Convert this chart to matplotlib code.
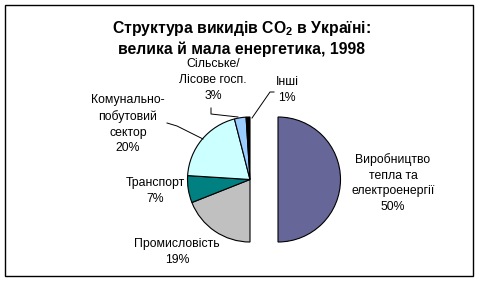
import matplotlib
matplotlib.use("Agg")
import matplotlib.pyplot as plt
from matplotlib.patches import Rectangle

plt.rcParams['font.family'] = ['Liberation Sans', 'DejaVu Sans']
plt.rcParams['mathtext.fontset'] = 'custom'
plt.rcParams['mathtext.rm'] = 'Liberation Sans:bold'
plt.rcParams['mathtext.bf'] = 'Liberation Sans:bold'
plt.rcParams['mathtext.default'] = 'regular'

title = 'Структура викидів CO$_2$ в Україні:\nвелика й мала енергетика, 1998'
categories = ['Виробництво\nтепла та\nелектроенергії', 'Промисловість', 'Транспорт',
              'Комунально-\nпобутовий\nсектор', 'Сільське/\nЛісове госп.', 'Інші']
values = [50, 19, 7, 20, 3, 1]
colors = ['#666699', '#C0C0C0', '#008080', '#CCFFFF', '#99CCFF', '#000000']

W, H = 480, 282
fig = plt.figure(figsize=(W / 100, H / 100), dpi=100)
ax = fig.add_axes([0, 0, 1, 1])

def py(y):
    return H - y

R = 62.5
cx, cy = 250, py(179.5)
explode = [28, 0, 0, 0, 0, 0]
ax.pie(values, colors=colors, startangle=90, counterclock=False, radius=R,
       center=(cx, cy), explode=explode,
       wedgeprops=dict(edgecolor='black', linewidth=0.8), frame=True)
ax.set_xlim(0, W)
ax.set_ylim(0, H)
ax.set_aspect('equal')
ax.axis('off')

fs = 8.8
labels_pos = [(393, 183), (177, 252), (155, 191), (128, 124), (213, 80), (287, 90)]
for cat, v, (x, y) in zip(categories, values, labels_pos):
    ax.text(x, py(y), f'{cat}\n{v}%', ha='center', va='center', fontsize=fs,
            linespacing=1.42)

# leader lines
ax.plot([167, 177, 203], [py(123), py(126), py(139)], color='black', lw=0.7)
ax.plot([211, 211, 238], [py(108), py(114), py(117)], color='black', lw=0.7)
ax.plot([274, 270, 252], [py(92), py(92), py(118)], color='black', lw=0.7)

fig.text(241 / W, 1 - 38 / H, title, ha='center', va='center', fontsize=11.3,
         fontweight='bold', linespacing=1.3)

fig.patches.append(Rectangle((5 / W, (H - 276) / H), 468 / W, 271 / H,
                             transform=fig.transFigure, fill=False,
                             edgecolor='black', linewidth=1.0))

fig.savefig('out.png', dpi=100)
